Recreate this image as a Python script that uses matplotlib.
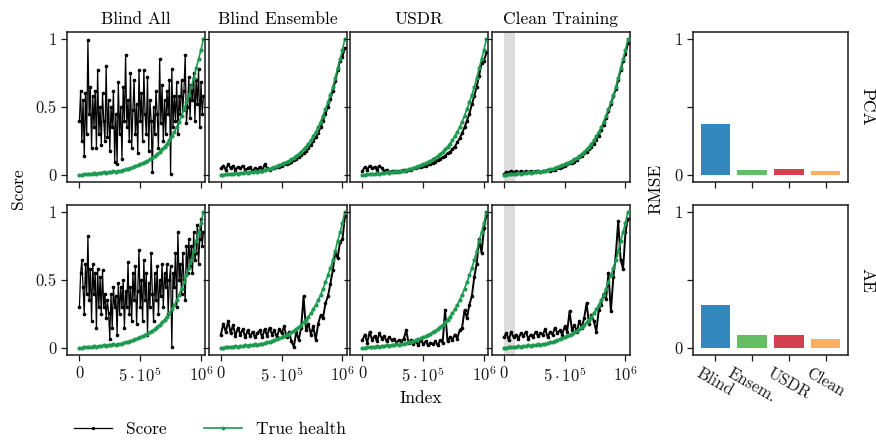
import numpy as np
import matplotlib.pyplot as plt

# police type LaTeX (Computer Modern livree avec matplotlib)
plt.rcParams['font.family'] = 'serif'
plt.rcParams['font.serif'] = ['cmr10']
plt.rcParams['mathtext.fontset'] = 'cm'
plt.rcParams['axes.formatter.use_mathtext'] = True
plt.rcParams['font.size'] = 12

# =============================================================================
#                                   DONNEES
# =============================================================================
methods = ['Blind All', 'Blind Ensemble', 'USDR', 'Clean Training']
models = ['PCA', 'AE']
bar_labels = ['Blind', 'Ensem.', 'USDR', 'Clean']
bar_colors = ['#3288bd', '#66bd63', '#d53e4f', '#fdae61']
rmse_pca = [0.375, 0.037, 0.044, 0.029]
rmse_ae = [0.32, 0.093, 0.093, 0.064]

x_max = 1.02e6
x_ticks = [0, 5e5, 1e6]
x_ticklabels = ['0', r'$5\cdot10^{5}$', r'$10^{6}$']
clean_span = (0, 0.09e6)   # zone d'entrainement propre

# sante reelle (meme courbe pour tous les panneaux)
true_health = [0.000, 0.004, 0.008, 0.006, 0.011, 0.010, 0.014, 0.012, 0.018, 0.016,
               0.022, 0.019, 0.026, 0.022, 0.027, 0.025, 0.031, 0.033, 0.038, 0.042,
               0.046, 0.051, 0.057, 0.064, 0.071, 0.079, 0.088, 0.097, 0.106, 0.116,
               0.128, 0.142, 0.157, 0.172, 0.190, 0.210, 0.232, 0.257, 0.285, 0.317,
               0.352, 0.392, 0.437, 0.485, 0.535, 0.587, 0.645, 0.712, 0.785, 0.850,
               0.920, 1.000]

# scores PCA
pca_blind_all = [0.40, 0.62, 0.25, 0.55, 0.14, 0.60, 0.30, 0.99, 0.45, 0.65,
                 0.20, 0.58, 0.35, 0.62, 0.20, 0.77, 0.30, 0.50, 0.22, 0.60,
                 0.40, 0.25, 0.80, 0.28, 0.55, 0.18, 0.50, 0.35, 0.62, 0.10,
                 0.45, 0.08, 0.68, 0.30, 0.50, 0.12, 0.65, 0.40, 0.88, 0.35,
                 0.55, 0.25, 0.75, 0.20, 0.48, 0.70, 0.30, 0.52, 0.16, 0.77,
                 0.40, 0.60, 0.25, 0.77, 0.45, 0.30, 0.72, 0.18, 0.55, 0.40,
                 0.02, 0.50, 0.30, 0.62, 0.45, 0.20, 0.85, 0.38, 0.66, 0.25,
                 0.55, 0.30, 0.62, 0.45, 0.70, 0.01, 0.78, 0.35, 0.58, 0.40,
                 0.68, 0.30, 0.58, 0.45, 0.70, 0.48, 0.62, 0.88, 0.38, 0.50,
                 0.72, 0.42, 0.66, 0.55, 0.75, 0.40, 0.70, 0.52, 0.78, 0.35,
                 0.68, 0.45, 0.58]
pca_blind_ens = [0.05, 0.07, 0.04, 0.08, 0.05, 0.07, 0.04, 0.06, 0.05, 0.07,
                 0.04, 0.05, 0.06, 0.03, 0.05, 0.04, 0.06, 0.03, 0.08, 0.05,
                 0.04, 0.05, 0.05, 0.06, 0.06, 0.07, 0.08, 0.08, 0.09, 0.10,
                 0.11, 0.12, 0.13, 0.15, 0.16, 0.18, 0.20, 0.22, 0.25, 0.28,
                 0.31, 0.35, 0.40, 0.45, 0.50, 0.56, 0.62, 0.69, 0.77, 0.84,
                 0.87, 0.93]
pca_usdr = [0.03, 0.06, 0.04, 0.07, 0.05, 0.06, 0.04, 0.07, 0.05, 0.03,
            0.04, 0.02, 0.03, 0.03, 0.02, 0.03, 0.03, 0.04, 0.03, 0.04,
            0.04, 0.05, 0.05, 0.06, 0.06, 0.07, 0.07, 0.08, 0.08, 0.09,
            0.10, 0.11, 0.12, 0.13, 0.14, 0.16, 0.17, 0.19, 0.21, 0.24,
            0.27, 0.31, 0.35, 0.40, 0.45, 0.52, 0.58, 0.65, 0.73, 0.82,
            0.84, 0.90]
pca_clean = [0.01, 0.02, 0.02, 0.03, 0.02, 0.03, 0.02, 0.03, 0.02, 0.03,
             0.02, 0.03, 0.02, 0.03, 0.03, 0.02, 0.03, 0.03, 0.04, 0.03,
             0.04, 0.04, 0.05, 0.05, 0.06, 0.07, 0.08, 0.09, 0.09, 0.10,
             0.11, 0.13, 0.14, 0.16, 0.17, 0.19, 0.21, 0.23, 0.26, 0.29,
             0.33, 0.37, 0.42, 0.47, 0.52, 0.58, 0.63, 0.70, 0.77, 0.84,
             0.89, 0.97]

# scores AE
ae_blind_all = [0.30, 0.55, 0.65, 0.45, 0.25, 0.62, 0.40, 0.82, 0.35, 0.58,
                0.20, 0.62, 0.40, 0.55, 0.15, 0.58, 0.30, 0.52, 0.25, 0.57,
                0.30, 0.40, 0.22, 0.35, 0.26, 0.07, 0.40, 0.15, 0.45, 0.30,
                0.38, 0.10, 0.48, 0.25, 0.45, 0.30, 0.50, 0.15, 0.42, 0.30,
                0.63, 0.25, 0.45, 0.20, 0.55, 0.35, 0.60, 0.18, 0.42, 0.72,
                0.30, 0.50, 0.20, 0.65, 0.35, 0.55, 0.10, 0.48, 0.30, 0.70,
                0.40, 0.20, 0.55, 0.35, 0.60, 0.25, 0.50, 0.38, 0.62, 0.30,
                0.55, 0.45, 0.62, 0.25, 0.50, 0.60, 0.01, 0.55, 0.45, 0.70,
                0.30, 0.85, 0.50, 0.62, 0.40, 0.70, 0.50, 0.35, 0.75, 0.55,
                0.80, 0.60, 0.75, 0.55, 0.85, 0.65, 0.70, 0.90, 0.62, 0.80,
                0.95, 0.75, 0.85]
ae_blind_ens = [0.10, 0.18, 0.12, 0.20, 0.11, 0.17, 0.09, 0.15, 0.10, 0.14,
                0.08, 0.13, 0.09, 0.12, 0.08, 0.11, 0.13, 0.08, 0.14, 0.09,
                0.15, 0.10, 0.13, 0.08, 0.14, 0.11, 0.16, 0.08, 0.12, 0.05,
                0.01, 0.12, 0.06, 0.15, 0.38, 0.13, 0.18, 0.10, 0.16, 0.06,
                0.18, 0.24, 0.22, 0.33, 0.38, 0.47, 0.57, 0.70, 0.66, 0.78,
                0.80, 0.97]
ae_usdr = [0.06, 0.10, 0.04, 0.12, 0.06, 0.09, 0.05, 0.11, 0.07, 0.09,
           0.05, 0.08, 0.06, 0.07, 0.04, 0.06, 0.05, 0.07, 0.13, 0.04,
           0.06, 0.03, 0.05, 0.02, 0.06, 0.03, 0.05, 0.02, 0.04, 0.03,
           0.05, 0.02, 0.06, 0.04, 0.28, 0.05, 0.08, 0.06, 0.10, 0.07,
           0.13, 0.15, 0.28, 0.22, 0.32, 0.38, 0.52, 0.62, 0.80, 0.70,
           0.88, 0.98]
ae_clean = [0.08, 0.11, 0.06, 0.12, 0.08, 0.10, 0.07, 0.11, 0.09, 0.12,
            0.07, 0.10, 0.08, 0.12, 0.09, 0.11, 0.10, 0.14, 0.08, 0.12,
            0.10, 0.15, 0.11, 0.13, 0.10, 0.16, 0.12, 0.27, 0.13, 0.17,
            0.12, 0.20, 0.15, 0.22, 0.33, 0.18, 0.24, 0.20, 0.12, 0.28,
            0.32, 0.40, 0.36, 0.55, 0.27, 0.52, 0.68, 0.93, 0.65, 0.58,
            0.85, 0.95]

scores = [[pca_blind_all, pca_blind_ens, pca_usdr, pca_clean],
          [ae_blind_all, ae_blind_ens, ae_usdr, ae_clean]]
rmse = [rmse_pca, rmse_ae]

# =============================================================================
#                                   FIGURE
# =============================================================================
W, H = 876, 440
fig = plt.figure(figsize=(W / 100, H / 100), dpi=100)

def rect(x0, y0, x1, y1):
    # pixels (origine en haut a gauche) -> fraction de figure
    return [x0 / W, 1 - y1 / H, (x1 - x0) / W, (y1 - y0) / H]

def style(ax):
    for s in ax.spines.values():
        s.set_linewidth(1.1)
        s.set_color('#1a1a1a')
    ax.tick_params(direction='out', length=4, width=0.9, colors='#1a1a1a', labelsize=12)

lefts = [67, 208.5, 350, 491.5]
rows = [(32, 182), (205, 355)]
green = '#1e9a50'

x_h = np.linspace(0, x_max, len(true_health))
for r, (y0, y1) in enumerate(rows):
    for c, x0 in enumerate(lefts):
        ax = fig.add_axes(rect(x0, y0, x0 + 138, y1))
        s = scores[r][c]
        x_s = np.linspace(0, x_max, len(s))
        if c == 3:
            ax.axvspan(clean_span[0], clean_span[1], color='#dcdcdc', lw=0, zorder=0)
        lw_s = 0.9 if c == 0 else 1.4   # trait plus epais pour les courbes lisses
        ax.plot(x_s, s, color='black', lw=lw_s, marker='o', ms=1.6, zorder=2)
        ax.plot(x_h, true_health, color=green, lw=1.2, marker='o', ms=2.0, zorder=3)
        ax.set_xlim(-0.102e6, 1.033e6)
        ax.set_ylim(-0.05, 1.05)
        ax.set_xticks(x_ticks)
        ax.set_yticks([0, 0.5, 1])
        if r == 1:
            ax.set_xticklabels(x_ticklabels)
        else:
            ax.set_xticklabels([])
            ax.set_title(methods[c], fontsize=12.5, pad=6)
        if c == 0:
            ax.set_yticklabels(['0', '0.5', '1'])
        else:
            ax.set_yticklabels([])
        style(ax)

    # RMSE en barres
    axb = fig.add_axes(rect(693, y0, 848, y1))
    axb.bar(range(len(bar_labels)), rmse[r], width=0.8, color=bar_colors)
    axb.set_xlim(-0.61, 3.61)
    axb.set_ylim(-0.05, 1.05)
    axb.set_yticks([0, 0.5, 1])
    axb.set_yticklabels(['0', '', '1'])
    axb.set_xticks(range(len(bar_labels)))
    if r == 1:
        axb.set_xticklabels(bar_labels, rotation=-30)
    else:
        axb.set_xticklabels([])
    style(axb)
    fig.text(867 / W, 1 - (y0 + y1) / 2 / H, models[r], rotation=270,
             ha='center', va='center', fontsize=12.5)

fig.text(18 / W, 1 - 189 / H, 'Score', rotation=90, ha='center', va='center', fontsize=12.5)
fig.text(656 / W, 1 - 189 / H, 'RMSE', rotation=90, ha='center', va='center', fontsize=12.5)
fig.text(421 / W, 1 - 398 / H, 'Index', ha='center', va='center', fontsize=12.5)

# legende en bas
h1, = plt.plot([], [], color='black', lw=0.9, marker='o', ms=1.4)
h2, = plt.plot([], [], color=green, lw=1.2, marker='o', ms=1.8)
fig.legend([h1, h2], ['Score', 'True health'], loc='center left',
           bbox_to_anchor=(74 / W, 1 - 429 / H), ncol=2, frameon=False,
           numpoints=1, handlelength=2.2, handletextpad=0.8, columnspacing=2.15,
           borderpad=0, borderaxespad=0, fontsize=12.5)

fig.savefig('out.png', dpi=100)
